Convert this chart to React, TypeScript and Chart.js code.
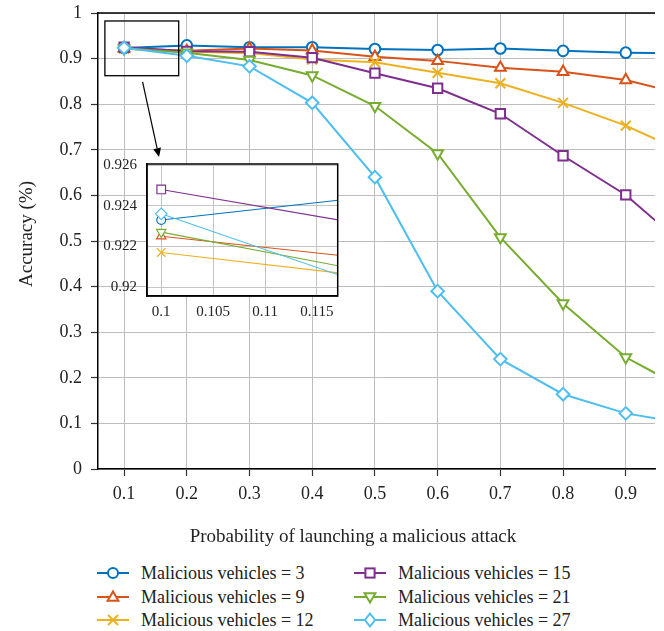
import React, { useEffect, useRef } from 'react';
import { Chart, registerables } from 'chart.js';
Chart.register(...registerables);

const FAMILY = 'Liberation Serif, DejaVu Serif, serif';

const xValues = [0.1, 0.2, 0.3, 0.4, 0.5, 0.6, 0.7, 0.8, 0.9, 1.0];
const mv3 = [0.9233, 0.929, 0.925, 0.925, 0.921, 0.919, 0.922, 0.917, 0.913, 0.911];
const mv9 = [0.9225, 0.917, 0.922, 0.918, 0.904, 0.895, 0.88, 0.871, 0.853, 0.819];
const mv12 = [0.9217, 0.9158, 0.912, 0.898, 0.892, 0.869, 0.846, 0.803, 0.753, 0.691];
const mv15 = [0.9248, 0.916, 0.915, 0.902, 0.868, 0.835, 0.779, 0.687, 0.601, 0.482];
const mv21 = [0.9227, 0.913, 0.897, 0.863, 0.796, 0.692, 0.508, 0.363, 0.245, 0.171];
const mv27 = [0.9236, 0.906, 0.883, 0.803, 0.64, 0.39, 0.241, 0.164, 0.122, 0.099];

const series = [mv3, mv9, mv12, mv15, mv21, mv27];
const seriesLabels = [
  'Malicious vehicles = 3',
  'Malicious vehicles = 9',
  'Malicious vehicles = 12',
  'Malicious vehicles = 15',
  'Malicious vehicles = 21',
  'Malicious vehicles = 27',
];
const seriesColors = ['#0072BD', '#D95319', '#EDB120', '#7E2F8E', '#77AC30', '#4DBEEE'];
const pointStyles = ['circle', 'triangle', 'crossRot', 'rect', 'triangle', 'rectRot'];
const pointRotations = [0, 0, 0, 0, 180, 0];
const mainRadii = [5.3, 6.2, 7, 6.6, 6.2, 6.3];
const insetRadii = [4.4, 5.4, 6, 6.1, 5.4, 5.8];

const xTicks = [0.1, 0.2, 0.3, 0.4, 0.5, 0.6, 0.7, 0.8, 0.9];
const yTicks = [0, 0.1, 0.2, 0.3, 0.4, 0.5, 0.6, 0.7, 0.8, 0.9, 1];
const insetXTicks = [0.1, 0.105, 0.11, 0.115];
const insetYTicks = [0.92, 0.922, 0.924, 0.926];

const xRange = [0.0584, 0.9466];
const insetXRange = [0.09863, 0.117];
const insetYRange = [0.91956, 0.92605];
const zoomBox = { x0: 0.0694, x1: 0.1871, y0: 0.8625, y1: 0.9825 };
const arrowFrom = { x: 0.1295, y: 0.849 };
const arrowTo = { x: 0.1557, y: 0.684 };

const xTitle = 'Probability of launching a malicious attack';
const yTitle = 'Accuracy (%)';

function makeDatasets(inset: boolean) {
  return series.map((s, i) => ({
    label: seriesLabels[i],
    data: xValues.map((x, j) => ({ x, y: s[j] })),
    borderColor: seriesColors[i],
    backgroundColor: '#fff',
    borderWidth: inset ? 1.1 : 2,
    pointStyle: pointStyles[i] as any,
    pointRotation: pointRotations[i],
    pointRadius: inset ? insetRadii[i] : mainRadii[i],
    pointBorderWidth: inset ? 1.2 : 2,
    pointBackgroundColor: '#fff',
    pointBorderColor: seriesColors[i],
    tension: 0,
    order: 10 - i,
  }));
}

function zeroPad(a: any) {
  a.paddingTop = 0;
  a.paddingBottom = 0;
  a.paddingLeft = 0;
  a.paddingRight = 0;
}

const mainDecor = {
  id: 'mainDecor',
  afterDraw(chart: any) {
    const { ctx, chartArea: ca, scales } = chart;
    const x = scales.x;
    const y = scales.y;
    ctx.save();
    ctx.strokeStyle = '#000';
    ctx.lineWidth = 1.5;
    ctx.beginPath();
    ctx.moveTo(ca.left, ca.top);
    ctx.lineTo(ca.right, ca.top);
    ctx.stroke();
    // zoom rectangle
    const rx0 = x.getPixelForValue(zoomBox.x0);
    const rx1 = x.getPixelForValue(zoomBox.x1);
    const ry0 = y.getPixelForValue(zoomBox.y1);
    const ry1 = y.getPixelForValue(zoomBox.y0);
    ctx.lineWidth = 1.3;
    ctx.strokeRect(rx0, ry0, rx1 - rx0, ry1 - ry0);
    // arrow
    const ax0 = x.getPixelForValue(arrowFrom.x);
    const ay0 = y.getPixelForValue(arrowFrom.y);
    const ax1 = x.getPixelForValue(arrowTo.x);
    const ay1 = y.getPixelForValue(arrowTo.y);
    const ang = Math.atan2(ay1 - ay0, ax1 - ax0);
    const hl = 9;
    const hw = 4;
    const bx = ax1 - Math.cos(ang) * hl;
    const by = ay1 - Math.sin(ang) * hl;
    ctx.lineWidth = 1.2;
    ctx.beginPath();
    ctx.moveTo(ax0, ay0);
    ctx.lineTo(bx, by);
    ctx.stroke();
    ctx.fillStyle = '#000';
    ctx.beginPath();
    ctx.moveTo(ax1, ay1);
    ctx.lineTo(bx - Math.sin(ang) * hw, by + Math.cos(ang) * hw);
    ctx.lineTo(bx + Math.sin(ang) * hw, by - Math.cos(ang) * hw);
    ctx.closePath();
    ctx.fill();
    // titles
    ctx.fillStyle = '#222';
    ctx.font = `19px ${FAMILY}`;
    ctx.textAlign = 'center';
    ctx.textBaseline = 'alphabetic';
    ctx.fillText(xTitle, 353, 542);
    ctx.translate(31.5, 234);
    ctx.rotate(-Math.PI / 2);
    ctx.fillText(yTitle, 0, 0);
    ctx.restore();
  },
};

const insetDecor = {
  id: 'insetDecor',
  beforeDraw(chart: any) {
    const { ctx, chartArea: ca } = chart;
    ctx.save();
    ctx.fillStyle = '#fff';
    ctx.fillRect(ca.left, ca.top, ca.right - ca.left, ca.bottom - ca.top);
    ctx.restore();
  },
  afterDraw(chart: any) {
    const { ctx, chartArea: ca } = chart;
    ctx.save();
    ctx.strokeStyle = '#000';
    ctx.lineWidth = 1.5;
    ctx.strokeRect(ca.left, ca.top, ca.right - ca.left, ca.bottom - ca.top);
    ctx.restore();
  },
};

function LegendSymbol({ i }: { i: number }) {
  const c = seriesColors[i];
  const sw = 2;
  let marker: React.ReactNode = null;
  if (i === 0) marker = <circle cx={16} cy={8} r={5} fill="#fff" stroke={c} strokeWidth={sw} />;
  if (i === 1) marker = <polygon points="16,2.5 10.6,11.8 21.4,11.8" fill="#fff" stroke={c} strokeWidth={sw} />;
  if (i === 2)
    marker = (
      <g stroke={c} strokeWidth={sw}>
        <line x1={11} y1={3} x2={21} y2={13} />
        <line x1={21} y1={3} x2={11} y2={13} />
      </g>
    );
  if (i === 3) marker = <rect x={11.4} y={3.4} width={9.2} height={9.2} fill="#fff" stroke={c} strokeWidth={sw} />;
  if (i === 4) marker = <polygon points="16,13.5 10.6,4.2 21.4,4.2" fill="#fff" stroke={c} strokeWidth={sw} />;
  if (i === 5) marker = <polygon points="16,1.5 21,8 16,14.5 11,8" fill="#fff" stroke={c} strokeWidth={sw} />;
  return (
    <svg width={32} height={16} style={{ display: 'block' }}>
      <line x1={0} y1={8} x2={32} y2={8} stroke={c} strokeWidth={sw} />
      {marker}
    </svg>
  );
}

export default function App() {
  const mainRef = useRef<HTMLCanvasElement>(null);
  const insetRef = useRef<HTMLCanvasElement>(null);

  useEffect(() => {
    document.body.style.margin = '0';
    const tickFont = { family: FAMILY, size: 18 };
    const main = new Chart(mainRef.current!, {
      type: 'line',
      data: { datasets: makeDatasets(false) as any },
      plugins: [mainDecor],
      options: {
        animation: false,
        responsive: false,
        maintainAspectRatio: false,
        layout: { padding: { top: 13, left: 0, right: 0, bottom: 0 } },
        plugins: { legend: { display: false }, tooltip: { enabled: false } },
        scales: {
          x: {
            type: 'linear',
            min: xRange[0],
            max: xRange[1],
            afterBuildTicks: (a: any) => {
              a.ticks = xTicks.map((v) => ({ value: v }));
            },
            afterFit: (a: any) => {
              a.height = 79;
              zeroPad(a);
            },
            grid: { color: '#bdbdbd', lineWidth: 1, tickLength: 7, tickColor: '#333', tickWidth: 1.2 },
            border: { color: '#000', width: 1.5 },
            ticks: {
              font: tickFont,
              color: '#222',
              padding: 7,
              maxRotation: 0,
              autoSkip: false,
              callback: (v: any) => String(v),
            },
          },
          y: {
            type: 'linear',
            min: 0,
            max: 1,
            afterBuildTicks: (a: any) => {
              a.ticks = yTicks.map((v) => ({ value: v }));
            },
            afterFit: (a: any) => {
              a.width = 98;
              zeroPad(a);
            },
            grid: { color: '#bdbdbd', lineWidth: 1, tickLength: 7, tickColor: '#333', tickWidth: 1.2 },
            border: { color: '#000', width: 1.5 },
            ticks: {
              font: tickFont,
              color: '#222',
              padding: 9,
              autoSkip: false,
              callback: (v: any) => String(v),
            },
          },
        },
      } as any,
    });

    const insetFont = { family: FAMILY, size: 15 };
    const inset = new Chart(insetRef.current!, {
      type: 'line',
      data: { datasets: makeDatasets(true) as any },
      plugins: [insetDecor],
      options: {
        animation: false,
        responsive: false,
        maintainAspectRatio: false,
        layout: { padding: { top: 14, left: 0, right: 6, bottom: 0 } },
        plugins: { legend: { display: false }, tooltip: { enabled: false } },
        scales: {
          x: {
            type: 'linear',
            min: insetXRange[0],
            max: insetXRange[1],
            afterBuildTicks: (a: any) => {
              a.ticks = insetXTicks.map((v) => ({ value: v }));
            },
            afterFit: (a: any) => {
              a.height = 34;
              zeroPad(a);
            },
            grid: { color: '#c4c4c4', lineWidth: 1, drawTicks: false },
            border: { color: '#000', width: 1.5 },
            ticks: {
              font: insetFont,
              color: '#222',
              padding: 7,
              maxRotation: 0,
              autoSkip: false,
              callback: (v: any) => String(v),
            },
          },
          y: {
            type: 'linear',
            min: insetYRange[0],
            max: insetYRange[1],
            afterBuildTicks: (a: any) => {
              a.ticks = insetYTicks.map((v) => ({ value: v }));
            },
            afterFit: (a: any) => {
              a.width = 52;
              zeroPad(a);
            },
            grid: { color: '#c4c4c4', lineWidth: 1, drawTicks: false },
            border: { color: '#000', width: 1.5 },
            ticks: {
              font: insetFont,
              color: '#222',
              padding: 10,
              autoSkip: false,
              callback: (v: any) => String(v),
            },
          },
        },
      } as any,
    });

    return () => {
      main.destroy();
      inset.destroy();
    };
  }, []);

  const legendRows = [573.3, 596.7, 620];
  const legendCols = [{ sym: 97, text: 141 }, { sym: 354, text: 398 }];

  return (
    <div style={{ position: 'relative', width: 664, height: 631, overflow: 'hidden', background: '#fff' }}>
      <canvas ref={mainRef} width={664} height={548} style={{ position: 'absolute', left: 0, top: 0, width: 664, height: 548 }} />
      <canvas ref={insetRef} width={250} height={180} style={{ position: 'absolute', left: 95, top: 150, width: 250, height: 180 }} />
      {seriesLabels.map((label, i) => {
        const col = legendCols[Math.floor(i / 3)];
        const row = legendRows[i % 3];
        return (
          <React.Fragment key={label}>
            <div style={{ position: 'absolute', left: col.sym, top: row - 8 }}>
              <LegendSymbol i={i} />
            </div>
            <div
              style={{
                position: 'absolute',
                left: col.text,
                top: row - 12,
                height: 24,
                lineHeight: '24px',
                fontFamily: FAMILY,
                fontSize: 18,
                color: '#222',
                whiteSpace: 'nowrap',
              }}
            >
              {label}
            </div>
          </React.Fragment>
        );
      })}
    </div>
  );
}
